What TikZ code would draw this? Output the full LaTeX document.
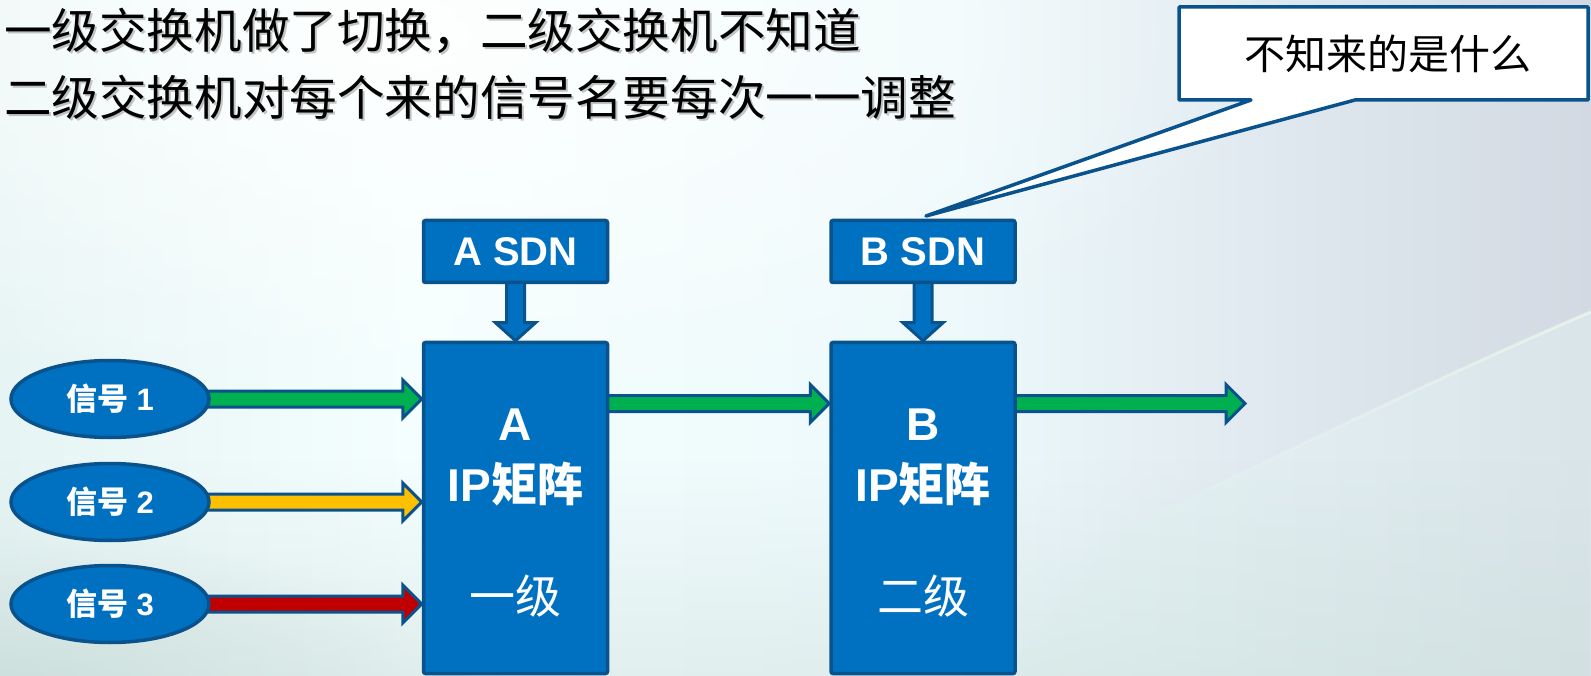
\documentclass[tikz,border=0pt]{standalone}
\usepackage{fontspec}
\setmainfont{Liberation Sans}
\newfontfamily\cjk{Noto Sans CJK SC}
\usetikzlibrary{calc,fadings,shapes.geometric}

\definecolor{boxblue}{HTML}{0070C0}
\definecolor{edgeblue}{RGB}{10,82,140}
\definecolor{sigGreen}{HTML}{00B050}
\definecolor{sigYellow}{HTML}{FFC000}
\definecolor{sigRed}{HTML}{C00000}
\definecolor{bgA}{HTML}{E6F4F4}
\definecolor{bgB}{HTML}{F4FEFE}
\definecolor{bgC}{HTML}{EDF9FB}
\definecolor{bgD}{HTML}{DEE7EE}
\definecolor{bgE}{HTML}{D2D9E2}
\definecolor{bgLow}{HTML}{C4D8D4}
\definecolor{bgLift}{HTML}{E4F4F2}
\definecolor{streak}{HTML}{F2FFF0}

\pgfdeclarehorizontalshading{slidebg}{100bp}{color(0bp)=(bgA); color(25bp)=(bgA); color(38bp)=(bgB); color(55bp)=(bgC); color(66bp)=(bgD); color(75bp)=(bgE); color(100bp)=(bgE)}
\tikzfading[name=softglow, inner color=transparent!0, outer color=transparent!100]

\pgfdeclarelayer{bg}
\pgfdeclarelayer{links}
\pgfsetlayers{bg,links,main}

\tikzset{
  blockarrow/.style={draw=edgeblue, line width=3pt, line join=miter},
  sig/.style={ellipse, fill=boxblue, draw=edgeblue, line width=3.5pt,
    minimum width=198pt, minimum height=77pt, inner sep=0pt,
    text=white, font=\fontsize{31}{31}\selectfont\bfseries},
  sdnbox/.style={rectangle, rounded corners=2pt, fill=boxblue, draw=edgeblue,
    line width=3.5pt, minimum width=184pt, minimum height=62pt, inner sep=0pt,
    text=white, font=\fontsize{40}{40}\selectfont\bfseries},
  matbox/.style={rectangle, rounded corners=2pt, fill=boxblue, draw=edgeblue,
    line width=3.5pt, minimum width=184pt, minimum height=331pt, inner sep=0pt},
  boxtext/.style={anchor=base, inner sep=0pt, text=white,
    font=\fontsize{46}{46}\selectfont\bfseries},
  leveltext/.style={anchor=base, inner sep=0pt, text=white,
    font=\fontsize{46}{46}\selectfont\cjk},
  heading/.style={anchor=base west, inner sep=0pt,
    font=\fontsize{47.6}{47.6}\selectfont\cjk},
  calloutbox/.style={fill=white, draw=edgeblue, line width=3.5pt, line join=round},
}

% horizontal block arrow from #1 to the x of #2, at the height of #2
\newcommand\harrow[3]{%
  \draw[blockarrow, fill=#3] let \p1=(#1), \p2=(#2) in
    (\x1,\y2+8pt) -- (\x2-19pt,\y2+8pt) -- (\x2-19pt,\y2+19pt) -- (\x2,\y2)
    -- (\x2-19pt,\y2-19pt) -- (\x2-19pt,\y2-8pt) -- (\x1,\y2-8pt) -- cycle;}
% downward block arrow from #1 to #2
\newcommand\varrow[2]{%
  \draw[blockarrow, fill=boxblue] let \p1=(#1), \p2=(#2) in
    (\x2-9pt,\y1) -- (\x2-9pt,\y2+18pt) -- (\x2-20pt,\y2+18pt) -- (\x2,\y2)
    -- (\x2+20pt,\y2+18pt) -- (\x2+9pt,\y2+18pt) -- (\x2+9pt,\y1) -- cycle;}

\begin{document}
\begin{tikzpicture}[x=1pt,y=-1pt]
\useasboundingbox (0,0) rectangle (1591,676);

% ---- slide background ----
\begin{pgfonlayer}{bg}
  \shade[shading=slidebg] (0,0) rectangle (1591,676);
  \fill[white, opacity=0.9, path fading=softglow] (-500,-350) rectangle (1300,420);
  \fill[bgLift, opacity=0.45]
    (1120,532) .. controls (1300,445) and (1450,372) .. (1591,312)
    -- (1591,676) -- (1000,676) -- cycle;
  \fill[bgLow, opacity=0.35, path fading=north] (0,460) rectangle (1591,676);
  \fill[bgLow, opacity=0.55, path fading=softglow] (-450,540) rectangle (500,820);
  \draw[streak, line width=3pt, opacity=0.6, path fading=west]
    (1120,532) .. controls (1300,445) and (1450,372) .. (1591,312);
\end{pgfonlayer}

% ---- heading ----
\node[heading, text=black!45, opacity=0.5] (h1s) at (6,51) {一级交换机做了切换，二级交换机不知道};
\node[heading, text=black!45, opacity=0.5] (h2s) at (6,118) {二级交换机对每个来的信号名要每次一一调整};
\node[heading] (h1) at (4,49) {一级交换机做了切换，二级交换机不知道};
\node[heading] (h2) at (4,116) {二级交换机对每个来的信号名要每次一一调整};

% ---- signal sources ----
\node[sig] (s1) at (110,399) {{\cjk 信号} 1};
\node[sig] (s2) at (110,502) {{\cjk 信号} 2};
\node[sig] (s3) at (110,604) {{\cjk 信号} 3};

% ---- controllers and matrices ----
\node[sdnbox] (aS) at (515.5,251.5) {A SDN};
\node[sdnbox] (bS) at (923,251.5) {B SDN};
\node[matbox] (A) at (515.5,508) {};
\node[matbox] (B) at (923,508) {};

\node[boxtext] (a1) at (515.5,440) {A};
\node[boxtext] (a2) at (515.5,501) {IP{\cjk 矩阵}};
\node[leveltext] (a3) at (515.5,613) {一级};
\node[boxtext] (b1) at (923,440) {B};
\node[boxtext] (b2) at (923,501) {IP{\cjk 矩阵}};
\node[leveltext] (b3) at (923,613) {二级};

\coordinate (lvl) at (0,403.5);
\coordinate (outEnd) at (1245,403.5);

% ---- connectors ----
\begin{pgfonlayer}{links}
  \harrow{s1.center}{A.west |- s1.center}{sigGreen}
  \harrow{s2.center}{A.west |- s2.center}{sigYellow}
  \harrow{s3.center}{A.west |- s3.center}{sigRed}
  \harrow{A.center}{B.west |- lvl}{sigGreen}
  \harrow{B.center}{outEnd}{sigGreen}
  \varrow{aS.center}{A.north}
  \varrow{bS.center}{B.north}
\end{pgfonlayer}

% ---- callout ----
\coordinate (tip) at (926,216);
\draw[calloutbox] (1179,7) -- (1588,7) -- (1588,100) -- (1355,100) -- (tip)
  -- (1251,100) -- (1179,100) -- cycle;
\node[anchor=base, inner sep=0pt, font=\fontsize{41}{41}\selectfont\cjk] (note) at (1388,70) {不知来的是什么};
\end{tikzpicture}
\end{document}
